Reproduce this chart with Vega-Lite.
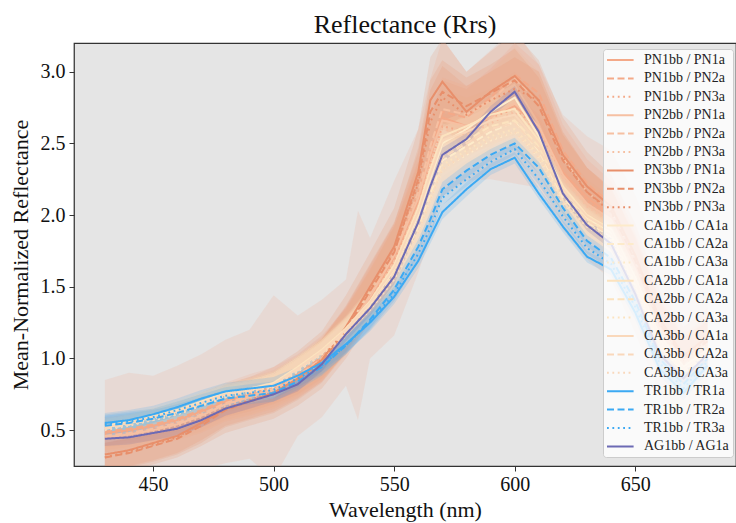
{
"$schema":"https://vega.github.io/schema/vega-lite/v6.json",
"width":662,"height":423,
"autosize":{"type":"none"},
"padding":{"left":74,"top":43,"right":0,"bottom":57},
"background":"white",
"config":{"view":{"fill":"#e5e5e5","stroke":"#333","strokeWidth":1.25}},
"title":{"text":"Reflectance (Rrs)","font":"Liberation Serif","fontSize":26,"fontWeight":"normal","color":"#111","offset":5,"anchor":"middle"},
"data":{"values":[
{"s":"PN1bb / PN1a","w":430,"m":0.48,"e":0.37},{"s":"PN1bb / PN1a","w":440,"m":0.50,"e":0.40},{"s":"PN1bb / PN1a","w":450,"m":0.53,"e":0.35},{"s":"PN1bb / PN1a","w":460,"m":0.57,"e":0.38},{"s":"PN1bb / PN1a","w":470,"m":0.63,"e":0.40},{"s":"PN1bb / PN1a","w":480,"m":0.70,"e":0.43},{"s":"PN1bb / PN1a","w":490,"m":0.75,"e":0.45},{"s":"PN1bb / PN1a","w":500,"m":0.80,"e":0.64},{"s":"PN1bb / PN1a","w":510,"m":0.88,"e":0.42},{"s":"PN1bb / PN1a","w":520,"m":1.00,"e":0.41},{"s":"PN1bb / PN1a","w":530,"m":1.18,"e":0.37},{"s":"PN1bb / PN1a","w":535,"m":1.30,"e":0.73},{"s":"PN1bb / PN1a","w":540,"m":1.42,"e":0.42},{"s":"PN1bb / PN1a","w":550,"m":1.70,"e":0.54},{"s":"PN1bb / PN1a","w":560,"m":2.10,"e":0.50},{"s":"PN1bb / PN1a","w":565,"m":2.40,"e":0.55},{"s":"PN1bb / PN1a","w":570,"m":2.68,"e":0.55},{"s":"PN1bb / PN1a","w":580,"m":2.62,"e":0.38},{"s":"PN1bb / PN1a","w":590,"m":2.70,"e":0.45},{"s":"PN1bb / PN1a","w":600,"m":2.76,"e":0.54},{"s":"PN1bb / PN1a","w":610,"m":2.62,"e":0.43},{"s":"PN1bb / PN1a","w":620,"m":2.30,"e":0.40},{"s":"PN1bb / PN1a","w":630,"m":2.12,"e":0.43},{"s":"PN1bb / PN1a","w":640,"m":2.00,"e":0.45},{"s":"PN1bb / PN1a","w":650,"m":1.66,"e":0.48},{"s":"PN1bb / PN1a","w":660,"m":1.24,"e":0.48},{"s":"PN1bb / PN1a","w":670,"m":1.00,"e":0.46},{"s":"PN1bb / PN1a","w":680,"m":1.12,"e":0.45},
{"s":"PN1bb / PN2a","w":430,"m":0.49,"e":0.10},{"s":"PN1bb / PN2a","w":440,"m":0.51,"e":0.10},{"s":"PN1bb / PN2a","w":450,"m":0.54,"e":0.11},{"s":"PN1bb / PN2a","w":460,"m":0.58,"e":0.11},{"s":"PN1bb / PN2a","w":470,"m":0.64,"e":0.12},{"s":"PN1bb / PN2a","w":480,"m":0.71,"e":0.12},{"s":"PN1bb / PN2a","w":490,"m":0.76,"e":0.13},{"s":"PN1bb / PN2a","w":500,"m":0.81,"e":0.13},{"s":"PN1bb / PN2a","w":510,"m":0.89,"e":0.14},{"s":"PN1bb / PN2a","w":520,"m":1.01,"e":0.15},{"s":"PN1bb / PN2a","w":530,"m":1.19,"e":0.16},{"s":"PN1bb / PN2a","w":540,"m":1.44,"e":0.18},{"s":"PN1bb / PN2a","w":550,"m":1.72,"e":0.20},{"s":"PN1bb / PN2a","w":560,"m":2.15,"e":0.22},{"s":"PN1bb / PN2a","w":565,"m":2.45,"e":0.22},{"s":"PN1bb / PN2a","w":570,"m":2.72,"e":0.22},{"s":"PN1bb / PN2a","w":580,"m":2.68,"e":0.20},{"s":"PN1bb / PN2a","w":590,"m":2.82,"e":0.20},{"s":"PN1bb / PN2a","w":600,"m":2.98,"e":0.22},{"s":"PN1bb / PN2a","w":610,"m":2.85,"e":0.20},{"s":"PN1bb / PN2a","w":620,"m":2.45,"e":0.18},{"s":"PN1bb / PN2a","w":630,"m":2.22,"e":0.17},{"s":"PN1bb / PN2a","w":640,"m":2.08,"e":0.16},{"s":"PN1bb / PN2a","w":650,"m":1.72,"e":0.16},{"s":"PN1bb / PN2a","w":660,"m":1.28,"e":0.15},{"s":"PN1bb / PN2a","w":670,"m":1.03,"e":0.14},{"s":"PN1bb / PN2a","w":680,"m":1.15,"e":0.14},
{"s":"PN1bb / PN3a","w":430,"m":0.47,"e":0.06},{"s":"PN1bb / PN3a","w":440,"m":0.49,"e":0.06},{"s":"PN1bb / PN3a","w":450,"m":0.52,"e":0.06},{"s":"PN1bb / PN3a","w":460,"m":0.56,"e":0.07},{"s":"PN1bb / PN3a","w":470,"m":0.62,"e":0.07},{"s":"PN1bb / PN3a","w":480,"m":0.69,"e":0.07},{"s":"PN1bb / PN3a","w":490,"m":0.74,"e":0.07},{"s":"PN1bb / PN3a","w":500,"m":0.79,"e":0.08},{"s":"PN1bb / PN3a","w":510,"m":0.87,"e":0.08},{"s":"PN1bb / PN3a","w":520,"m":0.99,"e":0.08},{"s":"PN1bb / PN3a","w":530,"m":1.17,"e":0.09},{"s":"PN1bb / PN3a","w":540,"m":1.40,"e":0.10},{"s":"PN1bb / PN3a","w":550,"m":1.68,"e":0.10},{"s":"PN1bb / PN3a","w":560,"m":2.05,"e":0.11},{"s":"PN1bb / PN3a","w":565,"m":2.35,"e":0.11},{"s":"PN1bb / PN3a","w":570,"m":2.62,"e":0.11},{"s":"PN1bb / PN3a","w":580,"m":2.58,"e":0.10},{"s":"PN1bb / PN3a","w":590,"m":2.68,"e":0.10},{"s":"PN1bb / PN3a","w":600,"m":2.74,"e":0.10},{"s":"PN1bb / PN3a","w":610,"m":2.60,"e":0.10},{"s":"PN1bb / PN3a","w":620,"m":2.28,"e":0.09},{"s":"PN1bb / PN3a","w":630,"m":2.10,"e":0.09},{"s":"PN1bb / PN3a","w":640,"m":1.98,"e":0.08},{"s":"PN1bb / PN3a","w":650,"m":1.64,"e":0.08},{"s":"PN1bb / PN3a","w":660,"m":1.22,"e":0.08},{"s":"PN1bb / PN3a","w":670,"m":0.98,"e":0.07},{"s":"PN1bb / PN3a","w":680,"m":1.10,"e":0.07},
{"s":"PN2bb / PN1a","w":430,"m":0.45,"e":0.10},{"s":"PN2bb / PN1a","w":440,"m":0.47,"e":0.10},{"s":"PN2bb / PN1a","w":450,"m":0.50,"e":0.11},{"s":"PN2bb / PN1a","w":460,"m":0.54,"e":0.11},{"s":"PN2bb / PN1a","w":470,"m":0.60,"e":0.12},{"s":"PN2bb / PN1a","w":480,"m":0.68,"e":0.12},{"s":"PN2bb / PN1a","w":490,"m":0.73,"e":0.13},{"s":"PN2bb / PN1a","w":500,"m":0.78,"e":0.13},{"s":"PN2bb / PN1a","w":510,"m":0.87,"e":0.14},{"s":"PN2bb / PN1a","w":520,"m":0.99,"e":0.15},{"s":"PN2bb / PN1a","w":530,"m":1.18,"e":0.16},{"s":"PN2bb / PN1a","w":540,"m":1.43,"e":0.18},{"s":"PN2bb / PN1a","w":550,"m":1.72,"e":0.20},{"s":"PN2bb / PN1a","w":560,"m":2.12,"e":0.22},{"s":"PN2bb / PN1a","w":565,"m":2.42,"e":0.22},{"s":"PN2bb / PN1a","w":570,"m":2.66,"e":0.22},{"s":"PN2bb / PN1a","w":580,"m":2.62,"e":0.20},{"s":"PN2bb / PN1a","w":590,"m":2.68,"e":0.20},{"s":"PN2bb / PN1a","w":600,"m":2.78,"e":0.22},{"s":"PN2bb / PN1a","w":610,"m":2.62,"e":0.20},{"s":"PN2bb / PN1a","w":620,"m":2.28,"e":0.18},{"s":"PN2bb / PN1a","w":630,"m":2.08,"e":0.17},{"s":"PN2bb / PN1a","w":640,"m":1.97,"e":0.16},{"s":"PN2bb / PN1a","w":650,"m":1.62,"e":0.16},{"s":"PN2bb / PN1a","w":660,"m":1.20,"e":0.15},{"s":"PN2bb / PN1a","w":670,"m":0.97,"e":0.14},{"s":"PN2bb / PN1a","w":680,"m":1.08,"e":0.14},
{"s":"PN2bb / PN2a","w":430,"m":0.46,"e":0.10},{"s":"PN2bb / PN2a","w":440,"m":0.48,"e":0.10},{"s":"PN2bb / PN2a","w":450,"m":0.51,"e":0.11},{"s":"PN2bb / PN2a","w":460,"m":0.55,"e":0.11},{"s":"PN2bb / PN2a","w":470,"m":0.61,"e":0.12},{"s":"PN2bb / PN2a","w":480,"m":0.69,"e":0.12},{"s":"PN2bb / PN2a","w":490,"m":0.74,"e":0.13},{"s":"PN2bb / PN2a","w":500,"m":0.79,"e":0.13},{"s":"PN2bb / PN2a","w":510,"m":0.88,"e":0.14},{"s":"PN2bb / PN2a","w":520,"m":1.00,"e":0.15},{"s":"PN2bb / PN2a","w":530,"m":1.19,"e":0.16},{"s":"PN2bb / PN2a","w":540,"m":1.45,"e":0.18},{"s":"PN2bb / PN2a","w":550,"m":1.74,"e":0.20},{"s":"PN2bb / PN2a","w":560,"m":2.16,"e":0.22},{"s":"PN2bb / PN2a","w":565,"m":2.48,"e":0.22},{"s":"PN2bb / PN2a","w":570,"m":2.74,"e":0.22},{"s":"PN2bb / PN2a","w":580,"m":2.70,"e":0.20},{"s":"PN2bb / PN2a","w":590,"m":2.80,"e":0.20},{"s":"PN2bb / PN2a","w":600,"m":2.95,"e":0.22},{"s":"PN2bb / PN2a","w":610,"m":2.80,"e":0.20},{"s":"PN2bb / PN2a","w":620,"m":2.40,"e":0.18},{"s":"PN2bb / PN2a","w":630,"m":2.16,"e":0.17},{"s":"PN2bb / PN2a","w":640,"m":2.03,"e":0.16},{"s":"PN2bb / PN2a","w":650,"m":1.68,"e":0.16},{"s":"PN2bb / PN2a","w":660,"m":1.25,"e":0.15},{"s":"PN2bb / PN2a","w":670,"m":1.01,"e":0.14},{"s":"PN2bb / PN2a","w":680,"m":1.12,"e":0.14},
{"s":"PN2bb / PN3a","w":430,"m":0.44,"e":0.06},{"s":"PN2bb / PN3a","w":440,"m":0.46,"e":0.06},{"s":"PN2bb / PN3a","w":450,"m":0.49,"e":0.06},{"s":"PN2bb / PN3a","w":460,"m":0.53,"e":0.07},{"s":"PN2bb / PN3a","w":470,"m":0.59,"e":0.07},{"s":"PN2bb / PN3a","w":480,"m":0.67,"e":0.07},{"s":"PN2bb / PN3a","w":490,"m":0.72,"e":0.07},{"s":"PN2bb / PN3a","w":500,"m":0.77,"e":0.08},{"s":"PN2bb / PN3a","w":510,"m":0.86,"e":0.08},{"s":"PN2bb / PN3a","w":520,"m":0.98,"e":0.08},{"s":"PN2bb / PN3a","w":530,"m":1.16,"e":0.09},{"s":"PN2bb / PN3a","w":540,"m":1.40,"e":0.10},{"s":"PN2bb / PN3a","w":550,"m":1.68,"e":0.10},{"s":"PN2bb / PN3a","w":560,"m":2.06,"e":0.11},{"s":"PN2bb / PN3a","w":565,"m":2.36,"e":0.11},{"s":"PN2bb / PN3a","w":570,"m":2.60,"e":0.11},{"s":"PN2bb / PN3a","w":580,"m":2.56,"e":0.10},{"s":"PN2bb / PN3a","w":590,"m":2.64,"e":0.10},{"s":"PN2bb / PN3a","w":600,"m":2.72,"e":0.10},{"s":"PN2bb / PN3a","w":610,"m":2.58,"e":0.10},{"s":"PN2bb / PN3a","w":620,"m":2.26,"e":0.09},{"s":"PN2bb / PN3a","w":630,"m":2.06,"e":0.09},{"s":"PN2bb / PN3a","w":640,"m":1.95,"e":0.08},{"s":"PN2bb / PN3a","w":650,"m":1.60,"e":0.08},{"s":"PN2bb / PN3a","w":660,"m":1.19,"e":0.08},{"s":"PN2bb / PN3a","w":670,"m":0.96,"e":0.07},{"s":"PN2bb / PN3a","w":680,"m":1.07,"e":0.07},
{"s":"PN3bb / PN1a","w":430,"m":0.33,"e":0.14},{"s":"PN3bb / PN1a","w":440,"m":0.36,"e":0.14},{"s":"PN3bb / PN1a","w":450,"m":0.41,"e":0.15},{"s":"PN3bb / PN1a","w":460,"m":0.46,"e":0.15},{"s":"PN3bb / PN1a","w":470,"m":0.55,"e":0.16},{"s":"PN3bb / PN1a","w":480,"m":0.65,"e":0.17},{"s":"PN3bb / PN1a","w":490,"m":0.70,"e":0.17},{"s":"PN3bb / PN1a","w":500,"m":0.76,"e":0.18},{"s":"PN3bb / PN1a","w":510,"m":0.86,"e":0.19},{"s":"PN3bb / PN1a","w":520,"m":0.99,"e":0.20},{"s":"PN3bb / PN1a","w":530,"m":1.22,"e":0.22},{"s":"PN3bb / PN1a","w":540,"m":1.50,"e":0.24},{"s":"PN3bb / PN1a","w":550,"m":1.78,"e":0.27},{"s":"PN3bb / PN1a","w":560,"m":2.30,"e":0.30},{"s":"PN3bb / PN1a","w":565,"m":2.80,"e":0.30},{"s":"PN3bb / PN1a","w":570,"m":2.93,"e":0.30},{"s":"PN3bb / PN1a","w":580,"m":2.72,"e":0.28},{"s":"PN3bb / PN1a","w":590,"m":2.86,"e":0.28},{"s":"PN3bb / PN1a","w":600,"m":2.97,"e":0.30},{"s":"PN3bb / PN1a","w":610,"m":2.80,"e":0.28},{"s":"PN3bb / PN1a","w":620,"m":2.42,"e":0.26},{"s":"PN3bb / PN1a","w":630,"m":2.20,"e":0.24},{"s":"PN3bb / PN1a","w":640,"m":2.06,"e":0.22},{"s":"PN3bb / PN1a","w":650,"m":1.72,"e":0.22},{"s":"PN3bb / PN1a","w":660,"m":1.28,"e":0.20},{"s":"PN3bb / PN1a","w":670,"m":1.02,"e":0.20},{"s":"PN3bb / PN1a","w":680,"m":1.15,"e":0.20},
{"s":"PN3bb / PN2a","w":430,"m":0.31,"e":0.10},{"s":"PN3bb / PN2a","w":440,"m":0.34,"e":0.10},{"s":"PN3bb / PN2a","w":450,"m":0.39,"e":0.11},{"s":"PN3bb / PN2a","w":460,"m":0.44,"e":0.11},{"s":"PN3bb / PN2a","w":470,"m":0.53,"e":0.12},{"s":"PN3bb / PN2a","w":480,"m":0.64,"e":0.12},{"s":"PN3bb / PN2a","w":490,"m":0.70,"e":0.13},{"s":"PN3bb / PN2a","w":500,"m":0.75,"e":0.13},{"s":"PN3bb / PN2a","w":510,"m":0.85,"e":0.14},{"s":"PN3bb / PN2a","w":520,"m":0.98,"e":0.15},{"s":"PN3bb / PN2a","w":530,"m":1.20,"e":0.16},{"s":"PN3bb / PN2a","w":540,"m":1.47,"e":0.18},{"s":"PN3bb / PN2a","w":550,"m":1.74,"e":0.20},{"s":"PN3bb / PN2a","w":560,"m":2.25,"e":0.22},{"s":"PN3bb / PN2a","w":565,"m":2.72,"e":0.22},{"s":"PN3bb / PN2a","w":570,"m":2.86,"e":0.22},{"s":"PN3bb / PN2a","w":580,"m":2.76,"e":0.20},{"s":"PN3bb / PN2a","w":590,"m":2.85,"e":0.20},{"s":"PN3bb / PN2a","w":600,"m":2.94,"e":0.22},{"s":"PN3bb / PN2a","w":610,"m":2.76,"e":0.20},{"s":"PN3bb / PN2a","w":620,"m":2.38,"e":0.18},{"s":"PN3bb / PN2a","w":630,"m":2.16,"e":0.17},{"s":"PN3bb / PN2a","w":640,"m":2.03,"e":0.16},{"s":"PN3bb / PN2a","w":650,"m":1.68,"e":0.16},{"s":"PN3bb / PN2a","w":660,"m":1.25,"e":0.15},{"s":"PN3bb / PN2a","w":670,"m":1.00,"e":0.14},{"s":"PN3bb / PN2a","w":680,"m":1.12,"e":0.14},
{"s":"PN3bb / PN3a","w":430,"m":0.31,"e":0.10},{"s":"PN3bb / PN3a","w":440,"m":0.35,"e":0.10},{"s":"PN3bb / PN3a","w":450,"m":0.40,"e":0.11},{"s":"PN3bb / PN3a","w":460,"m":0.45,"e":0.11},{"s":"PN3bb / PN3a","w":470,"m":0.55,"e":0.12},{"s":"PN3bb / PN3a","w":480,"m":0.65,"e":0.12},{"s":"PN3bb / PN3a","w":490,"m":0.71,"e":0.13},{"s":"PN3bb / PN3a","w":500,"m":0.76,"e":0.13},{"s":"PN3bb / PN3a","w":510,"m":0.86,"e":0.14},{"s":"PN3bb / PN3a","w":520,"m":0.99,"e":0.15},{"s":"PN3bb / PN3a","w":530,"m":1.21,"e":0.16},{"s":"PN3bb / PN3a","w":540,"m":1.48,"e":0.18},{"s":"PN3bb / PN3a","w":550,"m":1.75,"e":0.20},{"s":"PN3bb / PN3a","w":560,"m":2.22,"e":0.22},{"s":"PN3bb / PN3a","w":565,"m":2.65,"e":0.22},{"s":"PN3bb / PN3a","w":570,"m":2.82,"e":0.22},{"s":"PN3bb / PN3a","w":580,"m":2.70,"e":0.20},{"s":"PN3bb / PN3a","w":590,"m":2.80,"e":0.20},{"s":"PN3bb / PN3a","w":600,"m":2.88,"e":0.22},{"s":"PN3bb / PN3a","w":610,"m":2.80,"e":0.20},{"s":"PN3bb / PN3a","w":620,"m":2.40,"e":0.18},{"s":"PN3bb / PN3a","w":630,"m":2.16,"e":0.17},{"s":"PN3bb / PN3a","w":640,"m":2.02,"e":0.16},{"s":"PN3bb / PN3a","w":650,"m":1.70,"e":0.16},{"s":"PN3bb / PN3a","w":660,"m":1.27,"e":0.15},{"s":"PN3bb / PN3a","w":670,"m":1.01,"e":0.14},{"s":"PN3bb / PN3a","w":680,"m":1.13,"e":0.14},
{"s":"CA1bb / CA1a","w":430,"m":0.52,"e":0.06},{"s":"CA1bb / CA1a","w":440,"m":0.55,"e":0.06},{"s":"CA1bb / CA1a","w":450,"m":0.59,"e":0.06},{"s":"CA1bb / CA1a","w":460,"m":0.63,"e":0.07},{"s":"CA1bb / CA1a","w":470,"m":0.69,"e":0.07},{"s":"CA1bb / CA1a","w":480,"m":0.75,"e":0.07},{"s":"CA1bb / CA1a","w":490,"m":0.78,"e":0.07},{"s":"CA1bb / CA1a","w":500,"m":0.82,"e":0.08},{"s":"CA1bb / CA1a","w":510,"m":0.93,"e":0.08},{"s":"CA1bb / CA1a","w":520,"m":1.05,"e":0.08},{"s":"CA1bb / CA1a","w":530,"m":1.20,"e":0.09},{"s":"CA1bb / CA1a","w":540,"m":1.38,"e":0.10},{"s":"CA1bb / CA1a","w":550,"m":1.62,"e":0.10},{"s":"CA1bb / CA1a","w":560,"m":2.00,"e":0.11},{"s":"CA1bb / CA1a","w":565,"m":2.25,"e":0.11},{"s":"CA1bb / CA1a","w":570,"m":2.50,"e":0.11},{"s":"CA1bb / CA1a","w":580,"m":2.60,"e":0.10},{"s":"CA1bb / CA1a","w":590,"m":2.72,"e":0.10},{"s":"CA1bb / CA1a","w":600,"m":2.82,"e":0.10},{"s":"CA1bb / CA1a","w":610,"m":2.55,"e":0.10},{"s":"CA1bb / CA1a","w":620,"m":2.18,"e":0.09},{"s":"CA1bb / CA1a","w":630,"m":1.98,"e":0.09},{"s":"CA1bb / CA1a","w":640,"m":1.88,"e":0.08},{"s":"CA1bb / CA1a","w":650,"m":1.55,"e":0.08},{"s":"CA1bb / CA1a","w":660,"m":1.15,"e":0.08},{"s":"CA1bb / CA1a","w":670,"m":0.93,"e":0.07},{"s":"CA1bb / CA1a","w":680,"m":1.05,"e":0.07},
{"s":"CA1bb / CA2a","w":430,"m":0.51,"e":0.06},{"s":"CA1bb / CA2a","w":440,"m":0.54,"e":0.06},{"s":"CA1bb / CA2a","w":450,"m":0.58,"e":0.06},{"s":"CA1bb / CA2a","w":460,"m":0.62,"e":0.07},{"s":"CA1bb / CA2a","w":470,"m":0.68,"e":0.07},{"s":"CA1bb / CA2a","w":480,"m":0.74,"e":0.07},{"s":"CA1bb / CA2a","w":490,"m":0.77,"e":0.07},{"s":"CA1bb / CA2a","w":500,"m":0.81,"e":0.08},{"s":"CA1bb / CA2a","w":510,"m":0.92,"e":0.08},{"s":"CA1bb / CA2a","w":520,"m":1.04,"e":0.08},{"s":"CA1bb / CA2a","w":530,"m":1.19,"e":0.09},{"s":"CA1bb / CA2a","w":540,"m":1.36,"e":0.10},{"s":"CA1bb / CA2a","w":550,"m":1.58,"e":0.10},{"s":"CA1bb / CA2a","w":560,"m":1.92,"e":0.11},{"s":"CA1bb / CA2a","w":565,"m":2.15,"e":0.11},{"s":"CA1bb / CA2a","w":570,"m":2.38,"e":0.11},{"s":"CA1bb / CA2a","w":580,"m":2.48,"e":0.10},{"s":"CA1bb / CA2a","w":590,"m":2.58,"e":0.10},{"s":"CA1bb / CA2a","w":600,"m":2.65,"e":0.10},{"s":"CA1bb / CA2a","w":610,"m":2.45,"e":0.10},{"s":"CA1bb / CA2a","w":620,"m":2.12,"e":0.09},{"s":"CA1bb / CA2a","w":630,"m":1.95,"e":0.09},{"s":"CA1bb / CA2a","w":640,"m":1.85,"e":0.08},{"s":"CA1bb / CA2a","w":650,"m":1.52,"e":0.08},{"s":"CA1bb / CA2a","w":660,"m":1.12,"e":0.08},{"s":"CA1bb / CA2a","w":670,"m":0.91,"e":0.07},{"s":"CA1bb / CA2a","w":680,"m":1.03,"e":0.07},
{"s":"CA1bb / CA3a","w":430,"m":0.51,"e":0.06},{"s":"CA1bb / CA3a","w":440,"m":0.54,"e":0.06},{"s":"CA1bb / CA3a","w":450,"m":0.57,"e":0.06},{"s":"CA1bb / CA3a","w":460,"m":0.61,"e":0.07},{"s":"CA1bb / CA3a","w":470,"m":0.67,"e":0.07},{"s":"CA1bb / CA3a","w":480,"m":0.73,"e":0.07},{"s":"CA1bb / CA3a","w":490,"m":0.76,"e":0.07},{"s":"CA1bb / CA3a","w":500,"m":0.80,"e":0.08},{"s":"CA1bb / CA3a","w":510,"m":0.91,"e":0.08},{"s":"CA1bb / CA3a","w":520,"m":1.03,"e":0.08},{"s":"CA1bb / CA3a","w":530,"m":1.17,"e":0.09},{"s":"CA1bb / CA3a","w":540,"m":1.34,"e":0.10},{"s":"CA1bb / CA3a","w":550,"m":1.55,"e":0.10},{"s":"CA1bb / CA3a","w":560,"m":1.88,"e":0.11},{"s":"CA1bb / CA3a","w":565,"m":2.10,"e":0.11},{"s":"CA1bb / CA3a","w":570,"m":2.32,"e":0.11},{"s":"CA1bb / CA3a","w":580,"m":2.42,"e":0.10},{"s":"CA1bb / CA3a","w":590,"m":2.52,"e":0.10},{"s":"CA1bb / CA3a","w":600,"m":2.58,"e":0.10},{"s":"CA1bb / CA3a","w":610,"m":2.40,"e":0.10},{"s":"CA1bb / CA3a","w":620,"m":2.08,"e":0.09},{"s":"CA1bb / CA3a","w":630,"m":1.92,"e":0.09},{"s":"CA1bb / CA3a","w":640,"m":1.82,"e":0.08},{"s":"CA1bb / CA3a","w":650,"m":1.50,"e":0.08},{"s":"CA1bb / CA3a","w":660,"m":1.10,"e":0.08},{"s":"CA1bb / CA3a","w":670,"m":0.90,"e":0.07},{"s":"CA1bb / CA3a","w":680,"m":1.02,"e":0.07},
{"s":"CA2bb / CA1a","w":430,"m":0.53,"e":0.06},{"s":"CA2bb / CA1a","w":440,"m":0.56,"e":0.06},{"s":"CA2bb / CA1a","w":450,"m":0.60,"e":0.06},{"s":"CA2bb / CA1a","w":460,"m":0.64,"e":0.07},{"s":"CA2bb / CA1a","w":470,"m":0.70,"e":0.07},{"s":"CA2bb / CA1a","w":480,"m":0.76,"e":0.07},{"s":"CA2bb / CA1a","w":490,"m":0.79,"e":0.07},{"s":"CA2bb / CA1a","w":500,"m":0.83,"e":0.08},{"s":"CA2bb / CA1a","w":510,"m":0.94,"e":0.08},{"s":"CA2bb / CA1a","w":520,"m":1.06,"e":0.08},{"s":"CA2bb / CA1a","w":530,"m":1.21,"e":0.09},{"s":"CA2bb / CA1a","w":540,"m":1.40,"e":0.10},{"s":"CA2bb / CA1a","w":550,"m":1.65,"e":0.10},{"s":"CA2bb / CA1a","w":560,"m":2.05,"e":0.11},{"s":"CA2bb / CA1a","w":565,"m":2.32,"e":0.11},{"s":"CA2bb / CA1a","w":570,"m":2.55,"e":0.11},{"s":"CA2bb / CA1a","w":580,"m":2.62,"e":0.10},{"s":"CA2bb / CA1a","w":590,"m":2.70,"e":0.10},{"s":"CA2bb / CA1a","w":600,"m":2.74,"e":0.10},{"s":"CA2bb / CA1a","w":610,"m":2.52,"e":0.10},{"s":"CA2bb / CA1a","w":620,"m":2.20,"e":0.09},{"s":"CA2bb / CA1a","w":630,"m":2.00,"e":0.09},{"s":"CA2bb / CA1a","w":640,"m":1.90,"e":0.08},{"s":"CA2bb / CA1a","w":650,"m":1.56,"e":0.08},{"s":"CA2bb / CA1a","w":660,"m":1.16,"e":0.08},{"s":"CA2bb / CA1a","w":670,"m":0.94,"e":0.07},{"s":"CA2bb / CA1a","w":680,"m":1.06,"e":0.07},
{"s":"CA2bb / CA2a","w":430,"m":0.52,"e":0.06},{"s":"CA2bb / CA2a","w":440,"m":0.55,"e":0.06},{"s":"CA2bb / CA2a","w":450,"m":0.59,"e":0.06},{"s":"CA2bb / CA2a","w":460,"m":0.63,"e":0.07},{"s":"CA2bb / CA2a","w":470,"m":0.69,"e":0.07},{"s":"CA2bb / CA2a","w":480,"m":0.75,"e":0.07},{"s":"CA2bb / CA2a","w":490,"m":0.78,"e":0.07},{"s":"CA2bb / CA2a","w":500,"m":0.82,"e":0.08},{"s":"CA2bb / CA2a","w":510,"m":0.93,"e":0.08},{"s":"CA2bb / CA2a","w":520,"m":1.05,"e":0.08},{"s":"CA2bb / CA2a","w":530,"m":1.19,"e":0.09},{"s":"CA2bb / CA2a","w":540,"m":1.37,"e":0.10},{"s":"CA2bb / CA2a","w":550,"m":1.60,"e":0.10},{"s":"CA2bb / CA2a","w":560,"m":1.96,"e":0.11},{"s":"CA2bb / CA2a","w":565,"m":2.20,"e":0.11},{"s":"CA2bb / CA2a","w":570,"m":2.42,"e":0.11},{"s":"CA2bb / CA2a","w":580,"m":2.52,"e":0.10},{"s":"CA2bb / CA2a","w":590,"m":2.62,"e":0.10},{"s":"CA2bb / CA2a","w":600,"m":2.66,"e":0.10},{"s":"CA2bb / CA2a","w":610,"m":2.48,"e":0.10},{"s":"CA2bb / CA2a","w":620,"m":2.15,"e":0.09},{"s":"CA2bb / CA2a","w":630,"m":1.97,"e":0.09},{"s":"CA2bb / CA2a","w":640,"m":1.87,"e":0.08},{"s":"CA2bb / CA2a","w":650,"m":1.54,"e":0.08},{"s":"CA2bb / CA2a","w":660,"m":1.14,"e":0.08},{"s":"CA2bb / CA2a","w":670,"m":0.92,"e":0.07},{"s":"CA2bb / CA2a","w":680,"m":1.04,"e":0.07},
{"s":"CA2bb / CA3a","w":430,"m":0.51,"e":0.06},{"s":"CA2bb / CA3a","w":440,"m":0.54,"e":0.06},{"s":"CA2bb / CA3a","w":450,"m":0.58,"e":0.06},{"s":"CA2bb / CA3a","w":460,"m":0.62,"e":0.07},{"s":"CA2bb / CA3a","w":470,"m":0.68,"e":0.07},{"s":"CA2bb / CA3a","w":480,"m":0.74,"e":0.07},{"s":"CA2bb / CA3a","w":490,"m":0.77,"e":0.07},{"s":"CA2bb / CA3a","w":500,"m":0.81,"e":0.08},{"s":"CA2bb / CA3a","w":510,"m":0.92,"e":0.08},{"s":"CA2bb / CA3a","w":520,"m":1.04,"e":0.08},{"s":"CA2bb / CA3a","w":530,"m":1.18,"e":0.09},{"s":"CA2bb / CA3a","w":540,"m":1.35,"e":0.10},{"s":"CA2bb / CA3a","w":550,"m":1.57,"e":0.10},{"s":"CA2bb / CA3a","w":560,"m":1.90,"e":0.11},{"s":"CA2bb / CA3a","w":565,"m":2.12,"e":0.11},{"s":"CA2bb / CA3a","w":570,"m":2.35,"e":0.11},{"s":"CA2bb / CA3a","w":580,"m":2.45,"e":0.10},{"s":"CA2bb / CA3a","w":590,"m":2.55,"e":0.10},{"s":"CA2bb / CA3a","w":600,"m":2.60,"e":0.10},{"s":"CA2bb / CA3a","w":610,"m":2.42,"e":0.10},{"s":"CA2bb / CA3a","w":620,"m":2.10,"e":0.09},{"s":"CA2bb / CA3a","w":630,"m":1.94,"e":0.09},{"s":"CA2bb / CA3a","w":640,"m":1.84,"e":0.08},{"s":"CA2bb / CA3a","w":650,"m":1.51,"e":0.08},{"s":"CA2bb / CA3a","w":660,"m":1.11,"e":0.08},{"s":"CA2bb / CA3a","w":670,"m":0.90,"e":0.07},{"s":"CA2bb / CA3a","w":680,"m":1.02,"e":0.07},
{"s":"CA3bb / CA1a","w":430,"m":0.52,"e":0.06},{"s":"CA3bb / CA1a","w":440,"m":0.55,"e":0.06},{"s":"CA3bb / CA1a","w":450,"m":0.59,"e":0.06},{"s":"CA3bb / CA1a","w":460,"m":0.63,"e":0.07},{"s":"CA3bb / CA1a","w":470,"m":0.69,"e":0.07},{"s":"CA3bb / CA1a","w":480,"m":0.75,"e":0.07},{"s":"CA3bb / CA1a","w":490,"m":0.78,"e":0.07},{"s":"CA3bb / CA1a","w":500,"m":0.82,"e":0.08},{"s":"CA3bb / CA1a","w":510,"m":0.93,"e":0.08},{"s":"CA3bb / CA1a","w":520,"m":1.05,"e":0.08},{"s":"CA3bb / CA1a","w":530,"m":1.20,"e":0.09},{"s":"CA3bb / CA1a","w":540,"m":1.39,"e":0.10},{"s":"CA3bb / CA1a","w":550,"m":1.63,"e":0.10},{"s":"CA3bb / CA1a","w":560,"m":2.02,"e":0.11},{"s":"CA3bb / CA1a","w":565,"m":2.28,"e":0.11},{"s":"CA3bb / CA1a","w":570,"m":2.52,"e":0.11},{"s":"CA3bb / CA1a","w":580,"m":2.58,"e":0.10},{"s":"CA3bb / CA1a","w":590,"m":2.66,"e":0.10},{"s":"CA3bb / CA1a","w":600,"m":2.70,"e":0.10},{"s":"CA3bb / CA1a","w":610,"m":2.50,"e":0.10},{"s":"CA3bb / CA1a","w":620,"m":2.18,"e":0.09},{"s":"CA3bb / CA1a","w":630,"m":1.99,"e":0.09},{"s":"CA3bb / CA1a","w":640,"m":1.89,"e":0.08},{"s":"CA3bb / CA1a","w":650,"m":1.55,"e":0.08},{"s":"CA3bb / CA1a","w":660,"m":1.15,"e":0.08},{"s":"CA3bb / CA1a","w":670,"m":0.93,"e":0.07},{"s":"CA3bb / CA1a","w":680,"m":1.05,"e":0.07},
{"s":"CA3bb / CA2a","w":430,"m":0.51,"e":0.06},{"s":"CA3bb / CA2a","w":440,"m":0.54,"e":0.06},{"s":"CA3bb / CA2a","w":450,"m":0.58,"e":0.06},{"s":"CA3bb / CA2a","w":460,"m":0.62,"e":0.07},{"s":"CA3bb / CA2a","w":470,"m":0.68,"e":0.07},{"s":"CA3bb / CA2a","w":480,"m":0.74,"e":0.07},{"s":"CA3bb / CA2a","w":490,"m":0.77,"e":0.07},{"s":"CA3bb / CA2a","w":500,"m":0.81,"e":0.08},{"s":"CA3bb / CA2a","w":510,"m":0.92,"e":0.08},{"s":"CA3bb / CA2a","w":520,"m":1.04,"e":0.08},{"s":"CA3bb / CA2a","w":530,"m":1.18,"e":0.09},{"s":"CA3bb / CA2a","w":540,"m":1.36,"e":0.10},{"s":"CA3bb / CA2a","w":550,"m":1.59,"e":0.10},{"s":"CA3bb / CA2a","w":560,"m":1.94,"e":0.11},{"s":"CA3bb / CA2a","w":565,"m":2.18,"e":0.11},{"s":"CA3bb / CA2a","w":570,"m":2.40,"e":0.11},{"s":"CA3bb / CA2a","w":580,"m":2.50,"e":0.10},{"s":"CA3bb / CA2a","w":590,"m":2.60,"e":0.10},{"s":"CA3bb / CA2a","w":600,"m":2.64,"e":0.10},{"s":"CA3bb / CA2a","w":610,"m":2.46,"e":0.10},{"s":"CA3bb / CA2a","w":620,"m":2.14,"e":0.09},{"s":"CA3bb / CA2a","w":630,"m":1.96,"e":0.09},{"s":"CA3bb / CA2a","w":640,"m":1.86,"e":0.08},{"s":"CA3bb / CA2a","w":650,"m":1.53,"e":0.08},{"s":"CA3bb / CA2a","w":660,"m":1.13,"e":0.08},{"s":"CA3bb / CA2a","w":670,"m":0.91,"e":0.07},{"s":"CA3bb / CA2a","w":680,"m":1.03,"e":0.07},
{"s":"CA3bb / CA3a","w":430,"m":0.50,"e":0.06},{"s":"CA3bb / CA3a","w":440,"m":0.53,"e":0.06},{"s":"CA3bb / CA3a","w":450,"m":0.57,"e":0.06},{"s":"CA3bb / CA3a","w":460,"m":0.61,"e":0.07},{"s":"CA3bb / CA3a","w":470,"m":0.67,"e":0.07},{"s":"CA3bb / CA3a","w":480,"m":0.73,"e":0.07},{"s":"CA3bb / CA3a","w":490,"m":0.76,"e":0.07},{"s":"CA3bb / CA3a","w":500,"m":0.80,"e":0.08},{"s":"CA3bb / CA3a","w":510,"m":0.91,"e":0.08},{"s":"CA3bb / CA3a","w":520,"m":1.03,"e":0.08},{"s":"CA3bb / CA3a","w":530,"m":1.17,"e":0.09},{"s":"CA3bb / CA3a","w":540,"m":1.34,"e":0.10},{"s":"CA3bb / CA3a","w":550,"m":1.56,"e":0.10},{"s":"CA3bb / CA3a","w":560,"m":1.88,"e":0.11},{"s":"CA3bb / CA3a","w":565,"m":2.10,"e":0.11},{"s":"CA3bb / CA3a","w":570,"m":2.32,"e":0.11},{"s":"CA3bb / CA3a","w":580,"m":2.43,"e":0.10},{"s":"CA3bb / CA3a","w":590,"m":2.53,"e":0.10},{"s":"CA3bb / CA3a","w":600,"m":2.58,"e":0.10},{"s":"CA3bb / CA3a","w":610,"m":2.40,"e":0.10},{"s":"CA3bb / CA3a","w":620,"m":2.08,"e":0.09},{"s":"CA3bb / CA3a","w":630,"m":1.92,"e":0.09},{"s":"CA3bb / CA3a","w":640,"m":1.82,"e":0.08},{"s":"CA3bb / CA3a","w":650,"m":1.50,"e":0.08},{"s":"CA3bb / CA3a","w":660,"m":1.10,"e":0.08},{"s":"CA3bb / CA3a","w":670,"m":0.90,"e":0.07},{"s":"CA3bb / CA3a","w":680,"m":1.01,"e":0.07},
{"s":"TR1bb / TR1a","w":430,"m":0.55,"e":0.07},{"s":"TR1bb / TR1a","w":440,"m":0.57,"e":0.07},{"s":"TR1bb / TR1a","w":450,"m":0.61,"e":0.06},{"s":"TR1bb / TR1a","w":460,"m":0.66,"e":0.06},{"s":"TR1bb / TR1a","w":470,"m":0.72,"e":0.06},{"s":"TR1bb / TR1a","w":480,"m":0.77,"e":0.06},{"s":"TR1bb / TR1a","w":490,"m":0.79,"e":0.06},{"s":"TR1bb / TR1a","w":500,"m":0.81,"e":0.06},{"s":"TR1bb / TR1a","w":510,"m":0.88,"e":0.06},{"s":"TR1bb / TR1a","w":520,"m":0.97,"e":0.06},{"s":"TR1bb / TR1a","w":530,"m":1.10,"e":0.06},{"s":"TR1bb / TR1a","w":540,"m":1.25,"e":0.06},{"s":"TR1bb / TR1a","w":550,"m":1.43,"e":0.05},{"s":"TR1bb / TR1a","w":560,"m":1.68,"e":0.05},{"s":"TR1bb / TR1a","w":565,"m":1.85,"e":0.05},{"s":"TR1bb / TR1a","w":570,"m":2.02,"e":0.05},{"s":"TR1bb / TR1a","w":580,"m":2.18,"e":0.05},{"s":"TR1bb / TR1a","w":590,"m":2.32,"e":0.04},{"s":"TR1bb / TR1a","w":600,"m":2.40,"e":0.04},{"s":"TR1bb / TR1a","w":610,"m":2.15,"e":0.04},{"s":"TR1bb / TR1a","w":620,"m":1.92,"e":0.04},{"s":"TR1bb / TR1a","w":630,"m":1.71,"e":0.04},{"s":"TR1bb / TR1a","w":640,"m":1.62,"e":0.04},{"s":"TR1bb / TR1a","w":650,"m":1.32,"e":0.05},{"s":"TR1bb / TR1a","w":660,"m":0.93,"e":0.05},{"s":"TR1bb / TR1a","w":670,"m":0.76,"e":0.05},{"s":"TR1bb / TR1a","w":680,"m":0.95,"e":0.05},
{"s":"TR1bb / TR2a","w":430,"m":0.53,"e":0.07},{"s":"TR1bb / TR2a","w":440,"m":0.55,"e":0.07},{"s":"TR1bb / TR2a","w":450,"m":0.58,"e":0.06},{"s":"TR1bb / TR2a","w":460,"m":0.62,"e":0.06},{"s":"TR1bb / TR2a","w":470,"m":0.67,"e":0.06},{"s":"TR1bb / TR2a","w":480,"m":0.72,"e":0.06},{"s":"TR1bb / TR2a","w":490,"m":0.74,"e":0.06},{"s":"TR1bb / TR2a","w":500,"m":0.76,"e":0.06},{"s":"TR1bb / TR2a","w":510,"m":0.84,"e":0.06},{"s":"TR1bb / TR2a","w":520,"m":0.94,"e":0.06},{"s":"TR1bb / TR2a","w":530,"m":1.09,"e":0.06},{"s":"TR1bb / TR2a","w":540,"m":1.27,"e":0.06},{"s":"TR1bb / TR2a","w":550,"m":1.48,"e":0.05},{"s":"TR1bb / TR2a","w":560,"m":1.78,"e":0.05},{"s":"TR1bb / TR2a","w":565,"m":1.97,"e":0.05},{"s":"TR1bb / TR2a","w":570,"m":2.18,"e":0.05},{"s":"TR1bb / TR2a","w":580,"m":2.31,"e":0.05},{"s":"TR1bb / TR2a","w":590,"m":2.42,"e":0.04},{"s":"TR1bb / TR2a","w":600,"m":2.50,"e":0.04},{"s":"TR1bb / TR2a","w":610,"m":2.33,"e":0.04},{"s":"TR1bb / TR2a","w":620,"m":2.05,"e":0.04},{"s":"TR1bb / TR2a","w":630,"m":1.82,"e":0.04},{"s":"TR1bb / TR2a","w":640,"m":1.70,"e":0.04},{"s":"TR1bb / TR2a","w":650,"m":1.40,"e":0.05},{"s":"TR1bb / TR2a","w":660,"m":1.00,"e":0.05},{"s":"TR1bb / TR2a","w":670,"m":0.82,"e":0.05},{"s":"TR1bb / TR2a","w":680,"m":1.00,"e":0.05},
{"s":"TR1bb / TR3a","w":430,"m":0.54,"e":0.07},{"s":"TR1bb / TR3a","w":440,"m":0.56,"e":0.07},{"s":"TR1bb / TR3a","w":450,"m":0.59,"e":0.06},{"s":"TR1bb / TR3a","w":460,"m":0.64,"e":0.06},{"s":"TR1bb / TR3a","w":470,"m":0.69,"e":0.06},{"s":"TR1bb / TR3a","w":480,"m":0.74,"e":0.06},{"s":"TR1bb / TR3a","w":490,"m":0.76,"e":0.06},{"s":"TR1bb / TR3a","w":500,"m":0.78,"e":0.06},{"s":"TR1bb / TR3a","w":510,"m":0.86,"e":0.06},{"s":"TR1bb / TR3a","w":520,"m":0.95,"e":0.06},{"s":"TR1bb / TR3a","w":530,"m":1.09,"e":0.06},{"s":"TR1bb / TR3a","w":540,"m":1.26,"e":0.06},{"s":"TR1bb / TR3a","w":550,"m":1.45,"e":0.05},{"s":"TR1bb / TR3a","w":560,"m":1.73,"e":0.05},{"s":"TR1bb / TR3a","w":565,"m":1.91,"e":0.05},{"s":"TR1bb / TR3a","w":570,"m":2.12,"e":0.05},{"s":"TR1bb / TR3a","w":580,"m":2.25,"e":0.05},{"s":"TR1bb / TR3a","w":590,"m":2.37,"e":0.04},{"s":"TR1bb / TR3a","w":600,"m":2.46,"e":0.04},{"s":"TR1bb / TR3a","w":610,"m":2.25,"e":0.04},{"s":"TR1bb / TR3a","w":620,"m":1.99,"e":0.04},{"s":"TR1bb / TR3a","w":630,"m":1.77,"e":0.04},{"s":"TR1bb / TR3a","w":640,"m":1.66,"e":0.04},{"s":"TR1bb / TR3a","w":650,"m":1.36,"e":0.05},{"s":"TR1bb / TR3a","w":660,"m":0.97,"e":0.05},{"s":"TR1bb / TR3a","w":670,"m":0.79,"e":0.05},{"s":"TR1bb / TR3a","w":680,"m":0.98,"e":0.05},
{"s":"AG1bb / AG1a","w":430,"m":0.44,"e":0.05},{"s":"AG1bb / AG1a","w":440,"m":0.45,"e":0.05},{"s":"AG1bb / AG1a","w":450,"m":0.48,"e":0.05},{"s":"AG1bb / AG1a","w":460,"m":0.51,"e":0.05},{"s":"AG1bb / AG1a","w":470,"m":0.57,"e":0.05},{"s":"AG1bb / AG1a","w":480,"m":0.65,"e":0.05},{"s":"AG1bb / AG1a","w":490,"m":0.70,"e":0.05},{"s":"AG1bb / AG1a","w":500,"m":0.75,"e":0.05},{"s":"AG1bb / AG1a","w":510,"m":0.82,"e":0.05},{"s":"AG1bb / AG1a","w":520,"m":0.96,"e":0.05},{"s":"AG1bb / AG1a","w":530,"m":1.17,"e":0.05},{"s":"AG1bb / AG1a","w":540,"m":1.35,"e":0.05},{"s":"AG1bb / AG1a","w":550,"m":1.57,"e":0.05},{"s":"AG1bb / AG1a","w":560,"m":1.95,"e":0.05},{"s":"AG1bb / AG1a","w":565,"m":2.20,"e":0.05},{"s":"AG1bb / AG1a","w":570,"m":2.42,"e":0.05},{"s":"AG1bb / AG1a","w":580,"m":2.53,"e":0.04},{"s":"AG1bb / AG1a","w":590,"m":2.72,"e":0.04},{"s":"AG1bb / AG1a","w":600,"m":2.86,"e":0.04},{"s":"AG1bb / AG1a","w":610,"m":2.58,"e":0.04},{"s":"AG1bb / AG1a","w":620,"m":2.15,"e":0.04},{"s":"AG1bb / AG1a","w":630,"m":1.93,"e":0.04},{"s":"AG1bb / AG1a","w":640,"m":1.80,"e":0.04},{"s":"AG1bb / AG1a","w":650,"m":1.45,"e":0.04},{"s":"AG1bb / AG1a","w":660,"m":1.03,"e":0.04},{"s":"AG1bb / AG1a","w":670,"m":0.86,"e":0.04},{"s":"AG1bb / AG1a","w":680,"m":1.03,"e":0.04}
]},
"layer":[
{"mark":{"type":"errorband","clip":true,"band":{"opacity":0.18,"clip":true}},
 "encoding":{
  "x":{"field":"w","type":"quantitative","title":"Wavelength (nm)","scale":{"domain":[417.2,691.8],"nice":false,"zero":false},
   "axis":{"values":[450,500,550,600,650],"grid":false,"domain":false,"labelFont":"Liberation Serif","labelFontSize":20,"titleFont":"Liberation Serif","titleFontSize":22,"titleFontWeight":"normal","labelColor":"#111","titleColor":"#111","tickSize":5,"tickColor":"#333","labelPadding":3,"titlePadding":5}},
  "y":{"field":"m","type":"quantitative","title":"Mean-Normalized Reflectance","scale":{"domain":[0.25,3.2],"nice":false,"zero":false},
   "axis":{"values":[0.5,1,1.5,2,2.5,3],"format":".1f","grid":false,"domain":false,"labelFont":"Liberation Serif","labelFontSize":20,"titleFont":"Liberation Serif","titleFontSize":22,"titleFontWeight":"normal","labelColor":"#111","titleColor":"#111","tickSize":5,"tickColor":"#333","labelPadding":4,"titlePadding":8}},
  "yError":{"field":"e"},
  "color":{"field":"s","type":"nominal","legend":null,
   "scale":{"domain":["PN1bb / PN1a","PN1bb / PN2a","PN1bb / PN3a","PN2bb / PN1a","PN2bb / PN2a","PN2bb / PN3a","PN3bb / PN1a","PN3bb / PN2a","PN3bb / PN3a","CA1bb / CA1a","CA1bb / CA2a","CA1bb / CA3a","CA2bb / CA1a","CA2bb / CA2a","CA2bb / CA3a","CA3bb / CA1a","CA3bb / CA2a","CA3bb / CA3a","TR1bb / TR1a","TR1bb / TR2a","TR1bb / TR3a","AG1bb / AG1a"],
    "range":["#f4a988","#f4a988","#f4a988","#f6c0a2","#f6c0a2","#f6c0a2","#e88f6b","#e88f6b","#e88f6b","#fdebcb","#fdebcb","#fdebcb","#fce3bf","#fce3bf","#fce3bf","#f9d8bb","#f9d8bb","#f9d8bb","#3ba9f3","#3ba9f3","#3ba9f3","#6c6ab4"]}}
 }},
{"mark":{"type":"line","strokeWidth":2,"clip":true},
 "encoding":{
  "x":{"field":"w","type":"quantitative"},
  "y":{"field":"m","type":"quantitative"},
  "color":{"field":"s","type":"nominal","title":null,
   "legend":{"orient":"none","legendX":529,"legendY":6,"title":null,"symbolType":"M-1,0H2.8","symbolSize":196,"symbolStrokeWidth":2,"labelFont":"Liberation Serif","labelFontSize":14,"labelColor":"#222","labelOffset":22,"rowPadding":3.4,"padding":3,"fillColor":"rgba(255,255,255,0.8)","strokeColor":"#cccccc","cornerRadius":3,"labelLimit":200}},
  "strokeDash":{"field":"s","type":"nominal","title":null,
   "scale":{"domain":["PN1bb / PN1a","PN1bb / PN2a","PN1bb / PN3a","PN2bb / PN1a","PN2bb / PN2a","PN2bb / PN3a","PN3bb / PN1a","PN3bb / PN2a","PN3bb / PN3a","CA1bb / CA1a","CA1bb / CA2a","CA1bb / CA3a","CA2bb / CA1a","CA2bb / CA2a","CA2bb / CA3a","CA3bb / CA1a","CA3bb / CA2a","CA3bb / CA3a","TR1bb / TR1a","TR1bb / TR2a","TR1bb / TR3a","AG1bb / AG1a"],
    "range":[[1,0],[7,3.5],[1.8,3.6],[1,0],[7,3.5],[1.8,3.6],[1,0],[7,3.5],[1.8,3.6],[1,0],[7,3.5],[1.8,3.6],[1,0],[7,3.5],[1.8,3.6],[1,0],[7,3.5],[1.8,3.6],[1,0],[7,3.5],[1.8,3.6],[1,0]]},
   "legend":{"orient":"none","legendX":529,"legendY":6,"title":null,"symbolType":"M-1,0H2.8","symbolSize":196,"symbolStrokeWidth":2,"labelFont":"Liberation Serif","labelFontSize":14,"labelColor":"#222","labelOffset":22,"rowPadding":3.4,"padding":3,"fillColor":"rgba(255,255,255,0.8)","strokeColor":"#cccccc","cornerRadius":3,"labelLimit":200}}
 }}
],
"resolve":{"legend":{"color":"independent","strokeDash":"independent"}}
}
